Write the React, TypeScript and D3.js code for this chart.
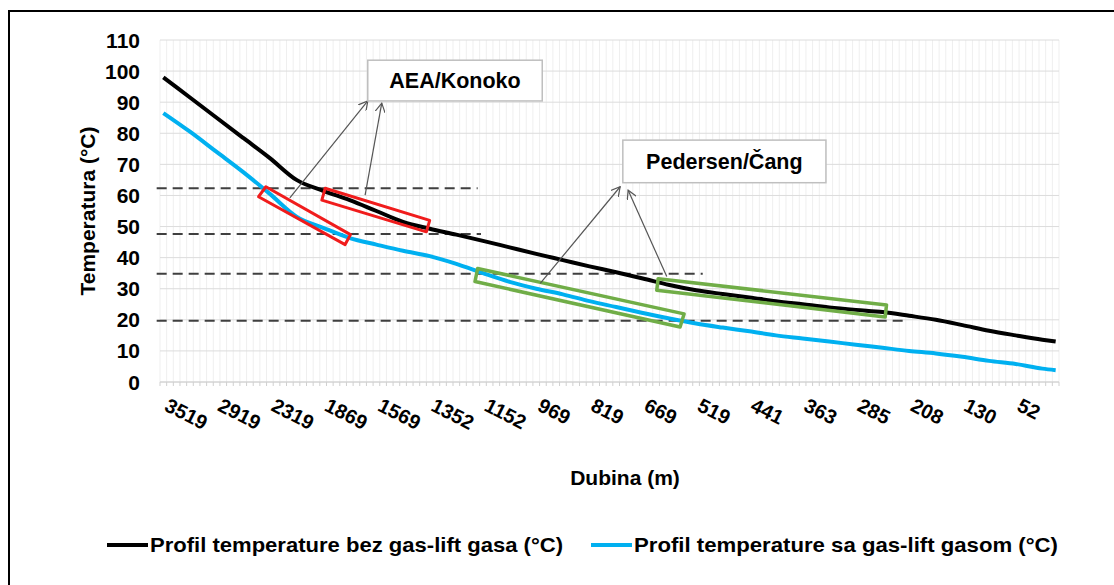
import React from "react";
import * as d3 from "d3";

// ---- data ----
const depthLabels = ["3519","2919","2319","1869","1569","1352","1152","969","819","669","519","441","363","285","208","130","52"];
const labelStep = 8;          // categories between labelled ticks
const categoryCount = 135;    // total categories on the x axis
const sampleIdx = [0,4,8,12,16,20,24,28,32,36,40,44,48,52,56,60,64,68,72,76,80,84,88,92,96,100,104,108,112,116,120,124,128,132,134];
const tempNoGas = [98,91.5,85,78.5,72,65,61.5,58.5,55,51.5,49.3,47.4,45.4,43.3,41.2,39.2,37.2,35.3,33.3,31.2,29.5,28.3,27.2,26,25,24,23.2,22.5,21.3,20,18.3,16.5,15,13.6,13];
const tempWithGas = [86.5,80.5,74,67.5,60.5,53.2,49.6,46.3,44.2,42.2,40.5,38,35,32.2,30,28.2,26,24.1,22.2,20.4,18.8,17.5,16.3,15,14,13,12,11,10,9.2,8.1,6.8,5.8,4.3,3.8];
const yTicks = [0,10,20,30,40,50,60,70,80,90,100,110];
const seriesNames = ["Profil temperature bez gas-lift gasa (°C)", "Profil temperature sa gas-lift gasom (°C)"];

// ---- annotations (category index, temperature) ----
const dashedLevels = [
  { t: 62.3, from: -1, to: 47.2 },
  { t: 47.6, from: -1, to: 47.7 },
  { t: 34.8, from: -1, to: 81.0 },
  { t: 19.7, from: -1, to: 111.1 },
];
const redBoxes = [
  [[14.3,59.6],[15.4,62.8],[28.1,47.4],[27.3,44.2]],
  [[23.8,58.5],[24.3,62.3],[40.0,52.0],[39.5,48.3]],
];
const greenBoxes = [
  [[46.8,32.3],[47.2,36.5],[78.2,21.9],[77.6,17.7]],
  [[74.1,29.5],[74.3,33.2],[108.6,24.8],[108.4,20.9]],
];
const arrows = [
  [[19.0,59.2],[30.7,90.4]],
  [[30.3,60.1],[32.8,89.7]],
  [[56.6,31.7],[68.6,62.8]],
  [[75.6,33.9],[69.8,61.7]],
];
const labelBoxes = [
  { text: "AEA/Konoko", i0: 30.7, i1: 56.9, t0: 103.5, t1: 90.4 },
  { text: "Pedersen/Čang", i0: 69.0, i1: 99.5, t0: 77.8, t1: 64.1 },
];

const W = 1114, H = 585;
const FONT = "'Liberation Sans', Arial, sans-serif";

export default function App() {
  const x = d3.scaleLinear().domain([-0.5, categoryCount - 0.5]).range([160, 1059]);
  const y = d3.scaleLinear().domain([0, 110]).range([382, 40]);

  const line = d3.line<[number, number]>()
    .x(d => x(d[0]))
    .y(d => y(d[1]))
    .curve(d3.curveMonotoneX);

  const blackPts: [number, number][] = sampleIdx.map((s, k) => [s, tempNoGas[k]]);
  const bluePts: [number, number][] = sampleIdx.map((s, k) => [s, tempWithGas[k]]);

  const gridIdx = d3.range(-1, categoryCount).map(i => i + 0.5);
  const poly = (pts: number[][]) => pts.map(p => `${x(p[0])},${y(p[1])}`).join(" ");

  return (
    <svg width={W} height={H} style={{ position: "absolute", left: 0, top: 0, background: "#fff" }} fontFamily={FONT}>
      <defs>
        <marker id="ah" viewBox="0 0 10 10" refX="9" refY="5" markerWidth="10" markerHeight="10" markerUnits="userSpaceOnUse" orient="auto">
          <path d="M0,0 L9,5 L0,10" fill="none" stroke="#555" strokeWidth="1.2" />
        </marker>
      </defs>
      <rect x={0} y={0} width={W} height={H} fill="#fff" />
      <rect x={9} y={11} width={W + 20} height={H + 20} fill="none" stroke="#000" strokeWidth={2} />

      {/* vertical minor gridlines */}
      {gridIdx.map(g => (
        <line key={"vg" + g} x1={x(g)} x2={x(g)} y1={y(110)} y2={y(0)} stroke="#efefef" strokeWidth={1} />
      ))}
      {/* horizontal gridlines */}
      {yTicks.map(t => (
        <line key={"hg" + t} x1={160} x2={1059} y1={y(t)} y2={y(t)} stroke="#dcdcdc" strokeWidth={1} />
      ))}
      {/* axis minor ticks */}
      {gridIdx.map(g => (
        <line key={"mt" + g} x1={x(g)} x2={x(g)} y1={y(0)} y2={y(0) + 4} stroke="#d0d0d0" strokeWidth={1} />
      ))}
      <line x1={160} x2={1059} y1={y(0)} y2={y(0)} stroke="#d0d0d0" strokeWidth={1} />

      {/* y tick labels */}
      {yTicks.map(t => (
        <text key={"yt" + t} x={140} y={y(t)} dy="0.36em" textAnchor="end" fontSize={21} fontWeight="bold" fill="#000">{t}</text>
      ))}
      {/* x tick labels */}
      {depthLabels.map((lab, k) => {
        const xi = x(k * labelStep);
        return (
          <text key={"xt" + lab} transform={`translate(${xi},${410}) rotate(27)`} fontSize={20} fontWeight="bold" fill="#000">{lab}</text>
        );
      })}

      {/* axis titles */}
      <text transform={`translate(95,${(y(0) + y(110)) / 2}) rotate(-90)`} textAnchor="middle" fontSize={21} fontWeight="bold">Temperatura (°C)</text>
      <text x={625} y={485} textAnchor="middle" fontSize={21} fontWeight="bold">Dubina (m)</text>

      {/* dashed levels */}
      {dashedLevels.map((d, k) => (
        <line key={"dl" + k} x1={x(d.from)} x2={x(d.to)} y1={y(d.t)} y2={y(d.t)} stroke="#3f3f3f" strokeWidth={2} strokeDasharray="10 6" />
      ))}

      {/* series */}
      <path d={line(bluePts) || ""} fill="none" stroke="#00B0F0" strokeWidth={4} strokeLinejoin="round" />
      <path d={line(blackPts) || ""} fill="none" stroke="#000" strokeWidth={4} strokeLinejoin="round" />

      {/* highlight boxes */}
      {redBoxes.map((b, k) => (
        <polygon key={"rb" + k} points={poly(b)} fill="none" stroke="#f01c1c" strokeWidth={3} strokeLinejoin="round" />
      ))}
      {greenBoxes.map((b, k) => (
        <polygon key={"gb" + k} points={poly(b)} fill="none" stroke="#70AD47" strokeWidth={3.5} strokeLinejoin="round" />
      ))}

      {/* arrows */}
      {arrows.map((a, k) => (
        <line key={"ar" + k} x1={x(a[0][0])} y1={y(a[0][1])} x2={x(a[1][0])} y2={y(a[1][1])} stroke="#555" strokeWidth={1.2} markerEnd="url(#ah)" />
      ))}

      {/* label boxes */}
      {labelBoxes.map((b, k) => (
        <g key={"lb" + k}>
          <rect x={x(b.i0)} y={y(b.t0)} width={x(b.i1) - x(b.i0)} height={y(b.t1) - y(b.t0)} fill="#fff" stroke="#bfbfbf" strokeWidth={1.5} />
          <text x={(x(b.i0) + x(b.i1)) / 2} y={(y(b.t0) + y(b.t1)) / 2} dy="0.36em" textAnchor="middle" fontSize={21.5} fontWeight="bold">{b.text}</text>
        </g>
      ))}

      {/* legend */}
      <line x1={107} x2={148} y1={545} y2={545} stroke="#000" strokeWidth={4} />
      <text x={150} y={552} fontSize={21} fontWeight="bold" textLength={413} lengthAdjust="spacingAndGlyphs">{seriesNames[0]}</text>
      <line x1={591} x2={632} y1={545} y2={545} stroke="#00B0F0" strokeWidth={4} />
      <text x={634} y={552} fontSize={21} fontWeight="bold" textLength={424} lengthAdjust="spacingAndGlyphs">{seriesNames[1]}</text>
    </svg>
  );
}
